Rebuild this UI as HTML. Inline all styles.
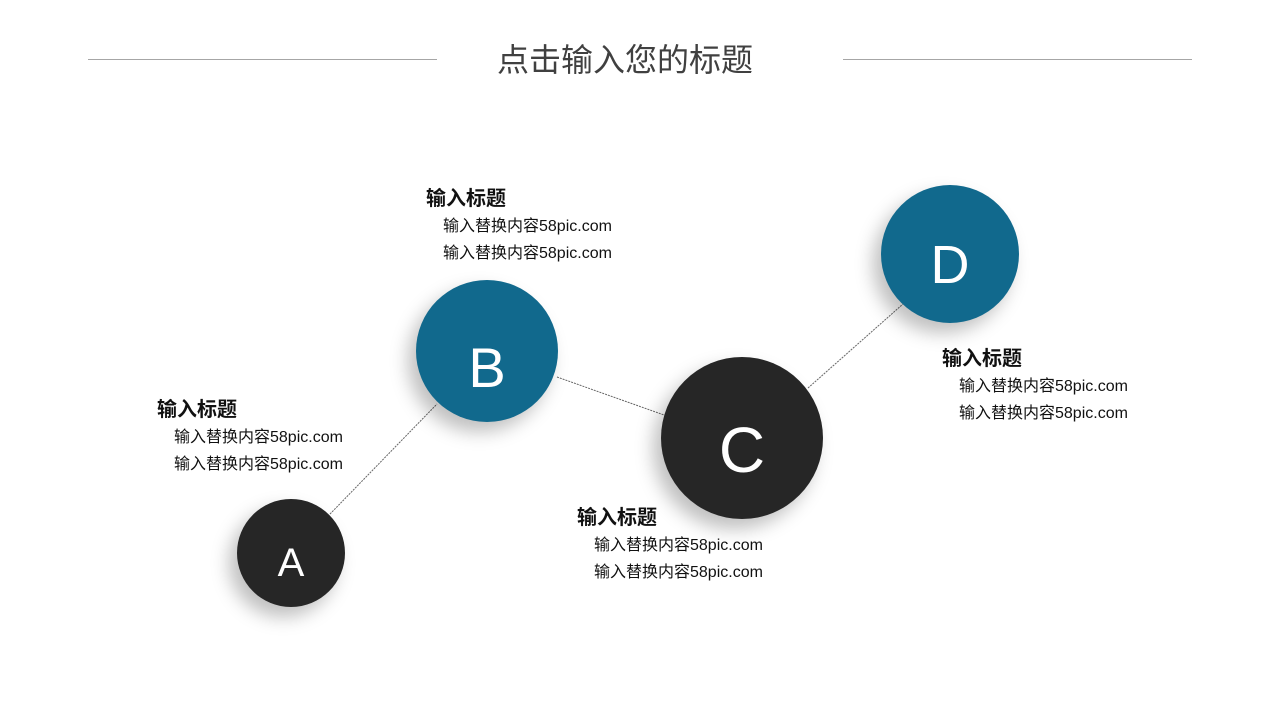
<!DOCTYPE html>
<html><head><meta charset="utf-8"><style>
body{margin:0;width:1280px;height:720px;background:#fff;position:relative;overflow:hidden;font-family:"Liberation Sans","Noto Sans CJK SC",sans-serif}
.t{position:absolute;left:0;width:1280px;top:38px;text-align:center;font-size:32px;color:#404040;line-height:44px}
.hl{position:absolute;top:59px;height:1px;background:#a6a6a6}
.c{position:absolute;border-radius:50%;color:#fff;display:flex;align-items:center;justify-content:center;box-shadow:-8px 10px 18px rgba(0,0,0,0.25);box-sizing:border-box}
.k{background:#262626}.b{background:#11698d}
.blk{position:absolute;color:#111}
.blk h{display:block;font-weight:bold;font-size:20px;line-height:28px}
.blk p{margin:0 0 0 17px;font-size:16px;line-height:27px}
</style></head><body>
<div class="hl" style="left:88px;width:349px"></div>
<div class="hl" style="left:843px;width:349px"></div>
<div class="t" style="left:-15px">点击输入您的标题</div>
<svg width="1280" height="720" style="position:absolute;left:0;top:0">
<g stroke="#666" stroke-width="1" stroke-dasharray="2,1">
<line x1="330" y1="514" x2="437" y2="404"/>
<line x1="557" y1="377" x2="664" y2="415"/>
<line x1="808" y1="388" x2="903" y2="304"/>
</g></svg>
<div class="c k" style="left:237px;top:499px;width:108px;height:108px;font-size:40px;padding-top:20px">A</div>
<div class="c b" style="left:416px;top:280px;width:142px;height:142px;font-size:56px;padding-top:32px">B</div>
<div class="c k" style="left:661px;top:357px;width:162px;height:162px;font-size:64px;padding-top:24px">C</div>
<div class="c b" style="left:881px;top:185px;width:138px;height:138px;font-size:54px;padding-top:22px">D</div>
<div class="blk" style="left:157px;top:396px"><h>输入标题</h><p>输入替换内容58pic.com</p><p>输入替换内容58pic.com</p></div>
<div class="blk" style="left:426px;top:185px"><h>输入标题</h><p>输入替换内容58pic.com</p><p>输入替换内容58pic.com</p></div>
<div class="blk" style="left:577px;top:504px"><h>输入标题</h><p>输入替换内容58pic.com</p><p>输入替换内容58pic.com</p></div>
<div class="blk" style="left:942px;top:345px"><h>输入标题</h><p>输入替换内容58pic.com</p><p>输入替换内容58pic.com</p></div>
</body></html>
